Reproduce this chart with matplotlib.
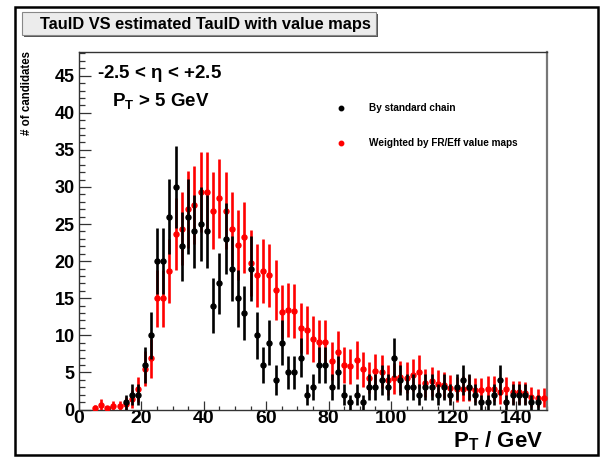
import numpy as np
import matplotlib
matplotlib.use("Agg")
import matplotlib.pyplot as plt
from matplotlib.lines import Line2D
from matplotlib.patches import Rectangle

plt.rcParams['font.family'] = ['Liberation Sans', 'DejaVu Sans']
plt.rcParams['font.weight'] = 'bold'
plt.rcParams['mathtext.fontset'] = 'custom'
plt.rcParams['mathtext.rm'] = 'Liberation Sans:bold'
plt.rcParams['mathtext.bf'] = 'Liberation Sans:bold'
plt.rcParams['mathtext.it'] = 'Liberation Sans:bold'

# ---- data (bins of 2 GeV, centres 1..149) ----
bin_centers = np.arange(1, 150, 2)

standard_chain = [0, 0, 0, 0, 0, 0, 0, 1, 2, 2,
                  6, 10, 20, 20, 26, 30, 22, 26, 24, 25,
                  24, 14, 17, 23, 19, 15, 13, 19, 10, 6,
                  9, 4, 9, 5, 5, 7, 2, 3, 6, 6,
                  3, 5, 2, 1, 2, 1, 3, 3, 4, 3,
                  7, 4, 3, 3, 2, 3, 3, 2, 3, 2,
                  3, 4, 3, 2, 1, 1, 2, 4, 1, 2,
                  2, 2, 1, 1, 0]

weighted_maps = [0, 0, 0.2, 0.6, 0.15, 0.5, 0.45, 0.8, 1.4, 2.7,
                 5.5, 6.9, 15.0, 15.0, 18.7, 23.7, 24.4, 27.0, 27.6, 29.3,
                 29.3, 26.8, 28.5, 26.8, 24.4, 22.2, 23.2, 19.7, 18.1, 18.7,
                 18.1, 16.1, 13.2, 13.4, 13.3, 11.0, 10.7, 9.5, 9.1, 9.1,
                 6.5, 7.8, 6.0, 5.8, 6.7, 5.4, 4.3, 5.2, 5.1, 4.0,
                 4.2, 4.4, 4.3, 4.6, 5.1, 3.6, 3.8, 3.5, 3.3, 2.9,
                 2.7, 2.8, 2.9, 2.6, 2.6, 2.8, 2.8, 2.3, 2.7, 2.3,
                 2.3, 2.2, 1.7, 1.5, 1.6]

series_labels = ["By standard chain", "Weighted by FR/Eff value maps"]
title_text = "TauID VS estimated TauID with value maps"

W, H = 604, 457
fig = plt.figure(figsize=(W / 100, H / 100), dpi=100)
fig.patch.set_facecolor('white')

# outer frame
fig.patches.append(Rectangle((15 / W, 1 - 455 / H), (598 - 15) / W, (455 - 7) / H,
                             transform=fig.transFigure, fill=False,
                             edgecolor='black', lw=1.8))

ax_l, ax_r, ax_t, ax_b = 79, 547, 52, 409.5
ax = fig.add_axes([ax_l / W, 1 - ax_b / H, (ax_r - ax_l) / W, (ax_b - ax_t) / H])

x = np.asarray(bin_centers, dtype=float)
b = np.asarray(standard_chain, dtype=float)
r = np.asarray(weighted_maps, dtype=float)
mb = b > 0
mr = r > 0

ax.errorbar(x[mr], r[mr], yerr=np.sqrt(r[mr]), fmt='o', color='#ff0000',
            ms=3.6, elinewidth=1.9, capsize=0, zorder=3)
ax.errorbar(x[mb], b[mb], yerr=np.sqrt(b[mb]), fmt='o', color='black',
            ms=3.6, elinewidth=1.9, capsize=0, zorder=4)

ax.set_xlim(0, 150)
ax.set_ylim(0, 48.2)
ax.set_xticks(np.arange(0, 150, 20))
ax.set_xticks(np.arange(0, 151, 5), minor=True)
ax.set_yticks(np.arange(0, 46, 5))
ax.set_yticks(np.arange(0, 49, 1), minor=True)
ax.tick_params(axis='both', which='both', direction='in', top=False, right=False,
               width=0.9, color='#333333')
ax.tick_params(axis='y', which='major', length=8.6, labelsize=13, pad=3)
ax.tick_params(axis='y', which='minor', length=4.3)
ax.tick_params(axis='x', which='major', length=6.5, labelsize=14, pad=0.5)
ax.tick_params(axis='x', which='minor', length=3.2)
for lab in ax.get_xticklabels() + ax.get_yticklabels():
    lab.set_fontweight('bold')
for s in ax.spines.values():
    s.set_color('#333333')
    s.set_linewidth(1.0)
ax.spines['right'].set_color('#777777')
ax.spines['right'].set_linewidth(1.6)

# annotations
fig.text(97 / W, 1 - 74 / H, r"-2.5 < $\eta$ < +2.5", fontsize=13.5, fontweight='bold',
         va='center', ha='left')
fig.text(112 / W, 1 - 101 / H, r"P$_{\mathbf{T}}$ > 5 GeV", fontsize=13.5, fontweight='bold',
         va='center', ha='left')

# legend (manual)
fig.add_artist(Line2D([341 / W], [1 - 108 / H], marker='o', color='black', ms=3.2,
                      transform=fig.transFigure))
fig.add_artist(Line2D([341 / W], [1 - 142.5 / H], marker='o', color='#ff0000', ms=3.2,
                      transform=fig.transFigure))
fig.text(369 / W, 1 - 108 / H, series_labels[0], fontsize=7.2, fontweight='bold',
         va='center', ha='left')
fig.text(369 / W, 1 - 142.5 / H, series_labels[1], fontsize=7.2, fontweight='bold',
         va='center', ha='left')

# axis labels
fig.text(543 / W, 1 - 447 / H, r"P$_{\mathbf{T}}$ / GeV", fontsize=16, fontweight='bold',
         ha='right', va='baseline')
fig.text(27 / W, 1 - 51 / H, "# of candidates", fontsize=8.3, fontweight='bold',
         rotation=90, ha='center', va='top')

# title box
fig.patches.append(Rectangle((24 / W, 1 - 37 / H), (378 - 24) / W, (37 - 14) / H,
                             transform=fig.transFigure, facecolor='#555555',
                             edgecolor='none'))
fig.patches.append(Rectangle((22 / W, 1 - 35 / H), (376 - 22) / W, (35 - 12.5) / H,
                             transform=fig.transFigure, facecolor='#ececec',
                             edgecolor='#888888', lw=0.8))
fig.text(205 / W, 1 - 24 / H, title_text, fontsize=11.8, fontweight='bold',
         ha='center', va='center')

fig.savefig("out.png", dpi=100)
